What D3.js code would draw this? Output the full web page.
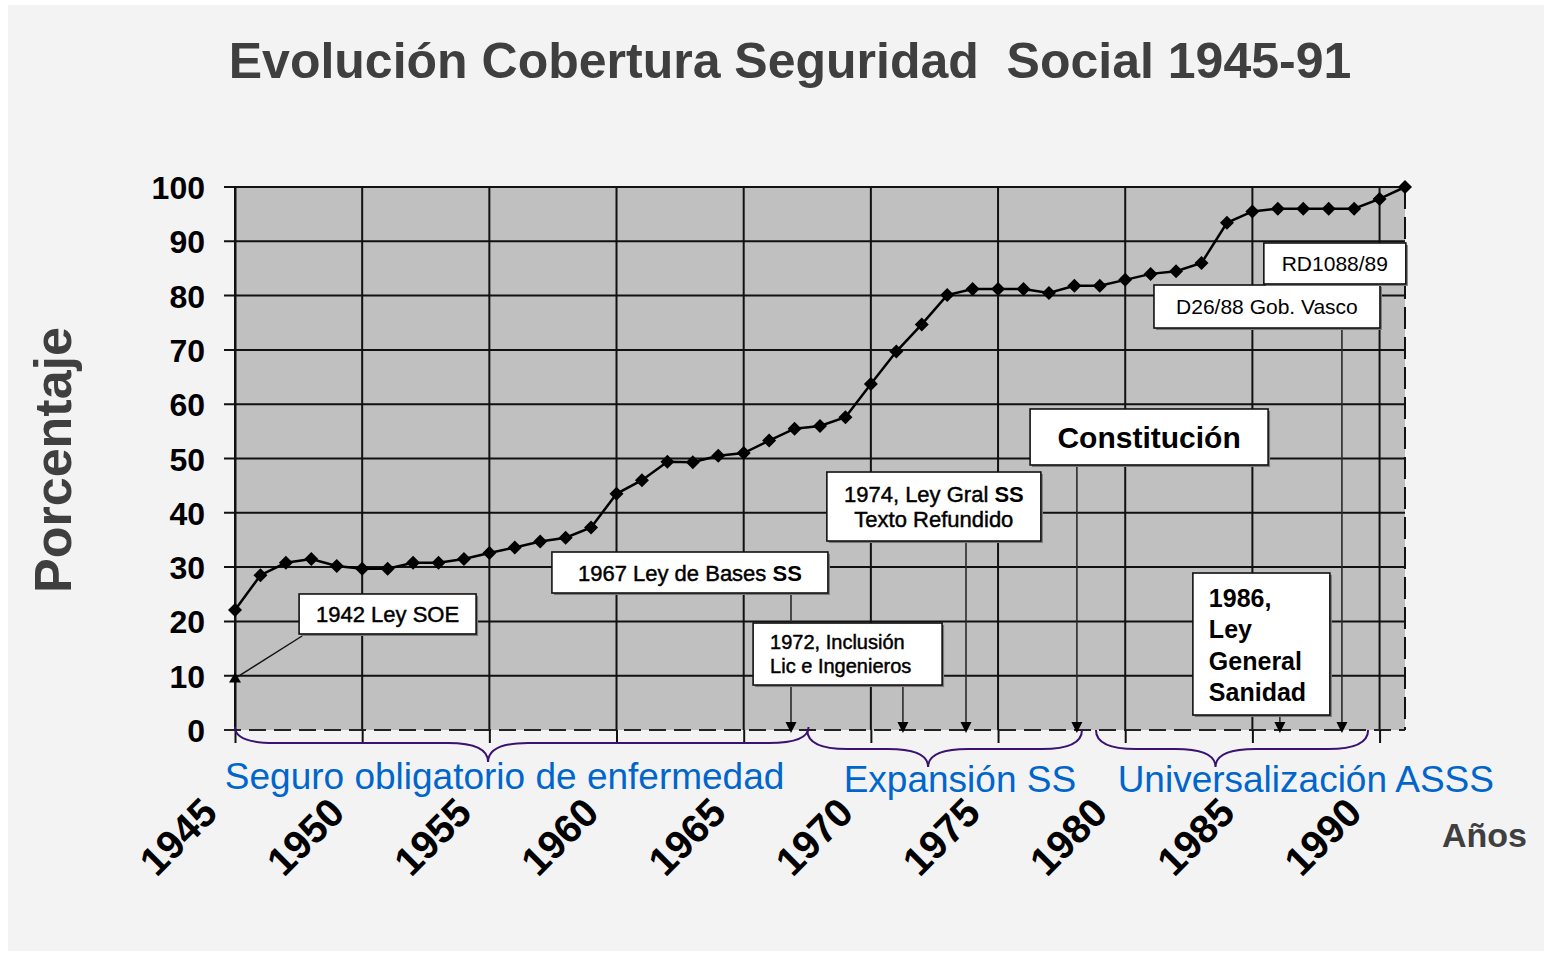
<!DOCTYPE html>
<html>
<head>
<meta charset="utf-8">
<script src="https://cdn.jsdelivr.net/npm/d3@7"></script>
<style>
  body { margin: 0; background: #ffffff; }
  svg { display: block; }
  text { font-family: "Liberation Sans", Arial, Helvetica, sans-serif; }
</style>
</head>
<body>
<svg id="chart" width="1544" height="954"></svg>
<script>
// ---------------- DATA ----------------
const years = [1945,1946,1947,1948,1949,1950,1951,1952,1953,1954,1955,1956,1957,1958,1959,
               1960,1961,1962,1963,1964,1965,1966,1967,1968,1969,1970,1971,1972,1973,1974,
               1975,1976,1977,1978,1979,1980,1981,1982,1983,1984,1985,1986,1987,1988,1989,
               1990,1991];
const coverage = [22.1,28.5,30.8,31.5,30.2,29.7,29.7,30.8,30.8,31.5,32.6,33.6,34.7,35.4,37.3,
                  43.5,46.0,49.4,49.3,50.5,51.0,53.3,55.5,56.0,57.6,63.7,69.7,74.7,80.1,81.2,
                  81.2,81.2,80.5,81.8,81.8,82.9,84.0,84.5,86.0,93.4,95.5,96.0,96.0,96.0,96.0,
                  97.8,100];
const yTicks = [0,10,20,30,40,50,60,70,80,90,100];
const xTicks = [1945,1950,1955,1960,1965,1970,1975,1980,1985,1990];

const titleText = "Evolución Cobertura Seguridad  Social 1945-91";
const yLabel = "Porcentaje";
const xLabel = "Años";

// periods (braces under the axis), in years
const periodLabels = ["Seguro obligatorio de enfermedad", "Expansión SS", "Universalización ASSS"];
const periodFrom = [1945, 1967.5, 1978.85];
const periodTo   = [1967.55, 1978.3, 1989.55];
const periodTip  = [1954.95, 1972.25, 1983.55];
const periodTextCenter = [1955.6, 1973.5, 1987.1];

// annotations: text lines, box top-left anchor (year, value), arrow year
const annotations = [
  { id: "soe",   lines: [[["1942 Ley SOE", 0]]], year: 1947.52, value: 25.05, targetYear: 1945, targetValue: 9.5 },
  { id: "bases", lines: [[["1967 Ley de Bases ", 0], ["SS", 1]]], year: 1957.46, value: 32.78, arrowYear: 1966.86 },
  { id: "lic",   lines: [[["1972, Inclusión", 0]], [["Lic e Ingenieros", 0]]], year: 1965.37, value: 19.7, arrowYear: 1971.26 },
  { id: "lgss",  lines: [[["1974, Ley Gral ", 0], ["SS", 1]], [["Texto Refundido", 0]]], year: 1968.27, value: 47.51, arrowYear: 1973.74 },
  { id: "const", lines: [[["Constitución", 1]]], year: 1976.26, value: 59.12, arrowYear: 1978.1 },
  { id: "vasco", lines: [[["D26/88 Gob. Vasco", 0]]], year: 1981.13, value: 81.95, arrowYear: 1988.52 },
  { id: "rd",    lines: [[["RD1088/89", 0]]], year: 1985.45, value: 89.69 },
  { id: "lgs",   lines: [[["1986,", 1]], [["Ley", 1]], [["General", 1]], [["Sanidad", 1]]], year: 1982.66, value: 28.91, arrowYear: 1986.08 }
];

// ---------------- STYLE (box geometry & fonts) ----------------
const boxStyle = {
  soe:   { w: 177, h: 40,  size: 22, anchor: "middle", pad: 0,  first: 28, lh: 0,  semi: true },
  bases: { w: 276, h: 41,  size: 22, anchor: "middle", pad: 0,  first: 29, lh: 0,  semi: true },
  lic:   { w: 189, h: 62,  size: 20, anchor: "start",  pad: 17, first: 26, lh: 24, semi: true },
  lgss:  { w: 214, h: 69,  size: 22, anchor: "middle", pad: 0,  first: 30, lh: 25, semi: true },
  const: { w: 238, h: 56,  size: 30, anchor: "middle", pad: 0,  first: 39, lh: 0,  semi: false },
  vasco: { w: 226, h: 43,  size: 21, anchor: "middle", pad: 0,  first: 29, lh: 0,  semi: false },
  rd:    { w: 142, h: 41,  size: 21, anchor: "middle", pad: 0,  first: 28, lh: 0,  semi: false },
  lgs:   { w: 137, h: 142, size: 25, anchor: "start",  pad: 16, first: 34, lh: 31.3, semi: false }
};

// ---------------- CHART ----------------
const svg = d3.select("#chart");

// page background
svg.append("rect").attr("x", 8).attr("y", 5).attr("width", 1536).attr("height", 946).attr("fill", "#f3f3f3");

const x = d3.scaleLinear().domain([1945, 1991]).range([235, 1405]);
const y = d3.scaleLinear().domain([0, 100]).range([730, 187]);

// title
svg.append("text")
  .attr("x", 790).attr("y", 78)
  .attr("text-anchor", "middle")
  .style("white-space", "pre")
  .attr("font-size", 50).attr("font-weight", "bold")
  .attr("fill", "#3f3f3f")
  .text(titleText);

// plot area
svg.append("rect")
  .attr("x", x(1945)).attr("y", y(100))
  .attr("width", x(1991) - x(1945)).attr("height", y(0) - y(100))
  .attr("fill", "#c0c0c0");

// horizontal gridlines
const gridColor = "#111";
svg.append("g").selectAll("line")
  .data(yTicks.filter(d => d > 0))
  .join("line")
  .attr("x1", x(1945) - 11).attr("x2", x(1991))
  .attr("y1", d => y(d)).attr("y2", d => y(d))
  .attr("stroke", gridColor).attr("stroke-width", 2);

// vertical gridlines
svg.append("g").selectAll("line")
  .data(xTicks)
  .join("line")
  .attr("x1", d => x(d)).attr("x2", d => x(d))
  .attr("y1", y(100)).attr("y2", y(0))
  .attr("stroke", gridColor).attr("stroke-width", 2);

// dashed right border & zero line
svg.append("line")
  .attr("x1", x(1991)).attr("x2", x(1991)).attr("y1", y(100)).attr("y2", y(0))
  .attr("stroke", gridColor).attr("stroke-width", 2).attr("stroke-dasharray", "22,8");
svg.append("line")
  .attr("x1", x(1945) - 11).attr("x2", x(1991)).attr("y1", y(0)).attr("y2", y(0))
  .attr("stroke", "#222").attr("stroke-width", 2).attr("stroke-dasharray", "17,8");

// Y axis (labels + ticks)
const yAxis = svg.append("g")
  .attr("transform", `translate(${x(1945)},0)`)
  .call(d3.axisLeft(y).tickValues(yTicks).tickSize(0).tickSizeOuter(0).tickPadding(30));
yAxis.select(".domain").attr("stroke", gridColor).attr("stroke-width", 2);
yAxis.selectAll("text")
  .attr("font-family", null)
  .attr("font-size", 32).attr("font-weight", "bold").attr("fill", "#000")
  .attr("dy", "0.36em");
yAxis.attr("font-family", null).attr("font-size", null);

// X axis (ticks + rotated labels)
const xAxis = svg.append("g")
  .attr("transform", `translate(0,${y(0)})`)
  .call(d3.axisBottom(x).tickValues(xTicks).tickSize(13).tickSizeOuter(0).tickFormat(d3.format("d")));
xAxis.select(".domain").remove();
xAxis.selectAll(".tick line").attr("stroke", gridColor).attr("stroke-width", 2);
xAxis.attr("font-family", null).attr("font-size", null);
xAxis.selectAll("text")
  .attr("y", 0).attr("dy", 0)
  .attr("transform", "translate(-16,85) rotate(-45)")
  .attr("text-anchor", "end")
  .attr("font-size", 40).attr("font-weight", "bold").attr("fill", "#000");

// axis titles
svg.append("text")
  .attr("transform", `translate(71,460) rotate(-90)`)
  .attr("text-anchor", "middle")
  .attr("font-size", 52).attr("font-weight", "bold").attr("fill", "#3f3f3f")
  .text(yLabel);
svg.append("text")
  .attr("x", 1442).attr("y", 847)
  .attr("font-size", 34).attr("font-weight", "bold").attr("fill", "#3f3f3f")
  .text(xLabel);

// data line
const pts = years.map((yr, i) => [yr, coverage[i]]);
svg.append("path")
  .datum(pts)
  .attr("fill", "none").attr("stroke", "#000").attr("stroke-width", 2.5)
  .attr("d", d3.line().x(d => x(d[0])).y(d => y(d[1])));
svg.append("g").selectAll("path")
  .data(pts)
  .join("path")
  .attr("transform", d => `translate(${x(d[0])},${y(d[1])})`)
  .attr("d", "M0,-7L7,0L0,7L-7,0Z")
  .attr("fill", "#000");

// annotations
const annG = svg.append("g");
const arrowColor = "#2a2a2a";
function arrowHead(g, cx, tipY) {
  g.append("path")
    .attr("d", `M${cx - 5.5},${tipY - 11}L${cx + 5.5},${tipY - 11}L${cx},${tipY}Z`)
    .attr("fill", "#000");
}
annotations.forEach(a => {
  const s = boxStyle[a.id];
  const bx = x(a.year), by = y(a.value);
  // connectors first
  if (a.arrowYear !== undefined) {
    const ax = x(a.arrowYear);
    const tip = y(0) + 3;
    annG.append("line")
      .attr("x1", ax).attr("x2", ax).attr("y1", by + s.h).attr("y2", tip - 8)
      .attr("stroke", arrowColor).attr("stroke-width", 1.6);
    arrowHead(annG, ax, tip);
  }
  if (a.targetYear !== undefined) {
    const tx = x(a.targetYear), ty = y(a.targetValue);
    annG.append("line")
      .attr("x1", bx + 3).attr("y1", by + s.h + 2).attr("x2", tx).attr("y2", ty)
      .attr("stroke", "#111").attr("stroke-width", 1.4);
    annG.append("path")
      .attr("d", `M${tx},${ty - 6}L${tx + 6},${ty + 4}L${tx - 6},${ty + 4}Z`)
      .attr("fill", "#000");
  }
  // shadow + box
  annG.append("rect")
    .attr("x", bx + 2).attr("y", by + 2).attr("width", s.w).attr("height", s.h)
    .attr("fill", "#7a7a7a");
  annG.append("rect")
    .attr("x", bx).attr("y", by).attr("width", s.w).attr("height", s.h)
    .attr("fill", "#ffffff").attr("stroke", "#111").attr("stroke-width", 1.6);
  // text
  const tx = s.anchor === "middle" ? bx + s.w / 2 : bx + s.pad;
  a.lines.forEach((line, li) => {
    const t = annG.append("text")
      .attr("x", tx).attr("y", by + s.first + li * s.lh)
      .attr("text-anchor", s.anchor)
      .attr("font-size", s.size)
      .style("white-space", "pre")
      .attr("fill", "#000");
    line.forEach(([str, bold]) => {
      const sp = t.append("tspan").text(str).attr("font-weight", bold ? "bold" : "normal");
      if (s.semi && !bold) sp.attr("stroke", "#000").attr("stroke-width", 0.45);
    });
  });
});

// braces and period labels
const braceColor = "#3b1272";
function bracePath(x1, x2, xt, yTop, yFlat, yTip, r) {
  const p = d3.path();
  p.moveTo(x1, yTop);
  p.quadraticCurveTo(x1, yFlat, x1 + r, yFlat);
  p.lineTo(xt - r, yFlat);
  p.quadraticCurveTo(xt, yFlat, xt, yTip);
  p.quadraticCurveTo(xt, yFlat, xt + r, yFlat);
  p.lineTo(x2 - r, yFlat);
  p.quadraticCurveTo(x2, yFlat, x2, yTop);
  return p.toString();
}
const braceLevels = [[y(0) - 3, y(0) + 13, y(0) + 32], [y(0), y(0) + 19, y(0) + 37], [y(0), y(0) + 19, y(0) + 37]];
const textBase = [789, 792, 792];
periodLabels.forEach((lab, i) => {
  const [yt, yf, ytip] = braceLevels[i];
  svg.append("path")
    .attr("d", bracePath(x(periodFrom[i]), x(periodTo[i]), x(periodTip[i]), yt, yf, ytip, 40))
    .attr("fill", "none").attr("stroke", braceColor).attr("stroke-width", 2);
  svg.append("text")
    .attr("x", x(periodTextCenter[i])).attr("y", textBase[i])
    .attr("text-anchor", "middle")
    .attr("font-size", 37).attr("fill", "#0066cc")
    .text(lab);
});
</script>
</body>
</html>
